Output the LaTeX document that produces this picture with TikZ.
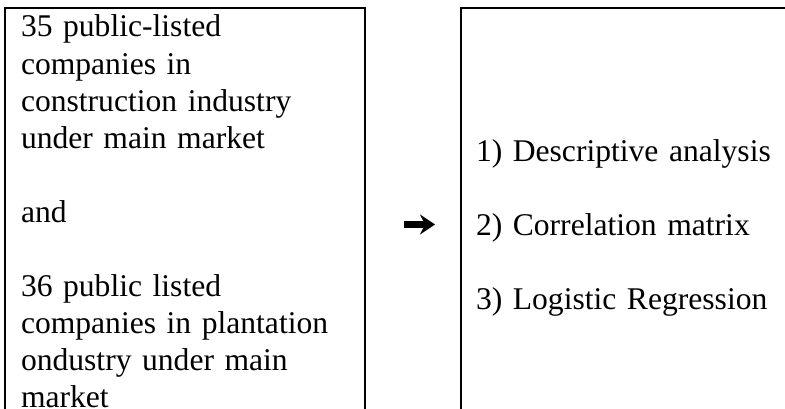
\documentclass[tikz,border=0pt]{standalone}
\usepackage{fontspec}
\setmainfont{Liberation Serif}
\usetikzlibrary{arrows.meta,positioning}
\tikzset{
  panel/.style={draw, line width=2.2pt, anchor=north west, inner sep=0pt,
                outer sep=0pt, minimum height=440pt},
  paneltext/.style={inner sep=0pt, outer sep=0pt, align=left, text width=#1,
                    font=\fontsize{31.6}{37.1}\selectfont},
  paneltext/.default=340pt,
  thickarrow/.style={-{Stealth[length=15pt 0,width=20pt 0,inset=5pt 0]},
                     line width=6.5pt}
}
\newcommand{\firstline}{\rule{0pt}{28pt}}

\begin{document}
\begin{tikzpicture}[x=1pt,y=1pt]
  \clip (0,0) rectangle (785,409);
  \node[panel, minimum width=359.7pt] (sample) at (5,401) {};
  \node[panel, minimum width=400pt] (method) at (461,401) {};
  % sample and methods
  \node[paneltext, below right=1pt and 16pt of sample.north west] (sampletext)
    {\firstline 35 public-listed\\ companies in\\ construction industry\\
     under main market\\[37.1pt] and\\[37.1pt] 36 public listed\\
     companies in plantation\\ ondustry under main\\ market};
  \node[paneltext=300pt, below right=126pt and 15pt of method.north west] (methodtext)
    {\firstline 1) Descriptive analysis\\[36.5pt] 2) Correlation matrix\\[36.5pt]
     3) Logistic Regression};
  \coordinate (arrowtail) at (404,184.5);
  \coordinate (arrowtip) at (435,184.5);
  \draw[thickarrow] (arrowtail) -- (arrowtip);
\end{tikzpicture}
\end{document}
